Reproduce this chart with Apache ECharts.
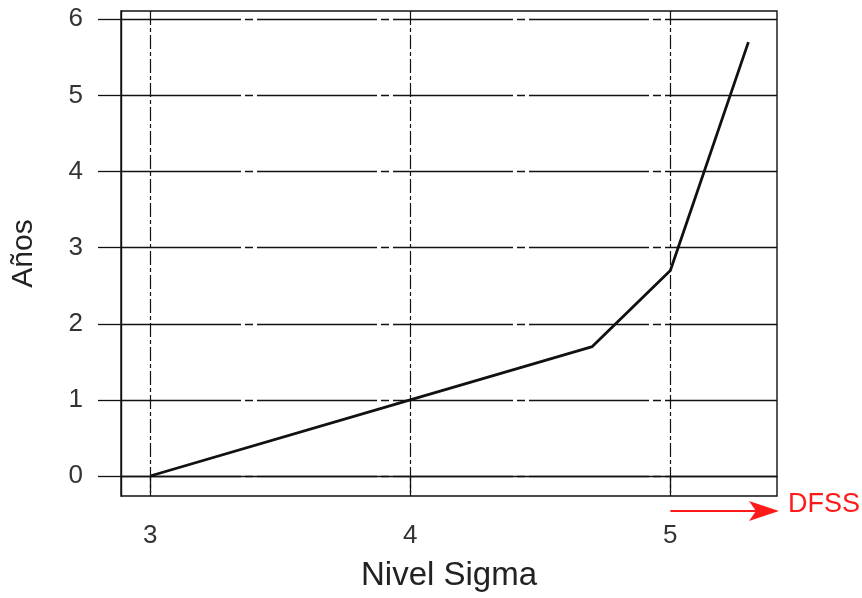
<!DOCTYPE html>
<html>
<head>
<meta charset="utf-8">
<script src="https://cdn.jsdelivr.net/npm/echarts@6/dist/echarts.min.js"></script>
<style>
  html, body { margin: 0; padding: 0; background: #fff; }
  #chart { width: 862px; height: 598px; }
</style>
</head>
<body>
<div id="chart"></div>
<script>
// Sigma level vs. years
const sigmaLevels = [3, 4, 4.7, 5, 5.3];
const years = [0, 1, 1.7, 2.7, 5.7];
const xTicks = [3, 4, 5];
const yTicks = [0, 1, 2, 3, 4, 5, 6];
const xTitle = 'Nivel Sigma';
const yTitle = 'Años';
const arrowLabel = 'DFSS';
const arrowFrom = 5;

const FONT = '"Liberation Sans", Arial, sans-serif';
const chart = echarts.init(document.getElementById('chart'), null, { renderer: 'canvas' });

const option = {
  animation: false,
  backgroundColor: '#fff',
  grid: {
    left: 121, top: 11, right: 85, bottom: 102,
    show: true, borderColor: '#111', borderWidth: 1.4, backgroundColor: 'transparent'
  },
  xAxis: {
    type: 'value',
    min: 2.888, max: 5.41,
    name: xTitle, nameLocation: 'middle', nameGap: 63,
    nameTextStyle: { fontFamily: FONT, fontSize: 33, color: '#222' },
    axisLine: { show: true, lineStyle: { color: '#111', width: 1.4 } },
    axisTick: { show: true, inside: false, length: 17, customValues: xTicks, lineStyle: { color: '#111', width: 1.3 } },
    axisLabel: { customValues: xTicks, margin: 27, fontFamily: FONT, fontSize: 26, color: '#333', formatter: v => String(v) },
    splitLine: { show: true, lineStyle: { color: '#111', width: 1.2, type: [14, 3, 4, 3] } }
  },
  yAxis: {
    type: 'value',
    min: -0.263, max: 6.109,
    name: yTitle, nameLocation: 'middle', nameGap: 82, nameRotate: 90,
    nameTextStyle: { fontFamily: FONT, fontSize: 30, color: '#222' },
    axisLine: { show: true, lineStyle: { color: '#111', width: 1.4 } },
    axisTick: { show: true, inside: false, length: 23, customValues: yTicks, lineStyle: { color: '#111', width: 1.3 } },
    axisLabel: { customValues: yTicks, margin: 38, fontFamily: FONT, fontSize: 26, color: '#333', formatter: v => String(v) },
    splitLine: { show: true, lineStyle: { color: '#111', width: 1.3, type: [120, 4, 8, 4] } }
  },
  series: [{
    type: 'line',
    data: sigmaLevels.map((x, i) => [x, years[i]]),
    showSymbol: false,
    lineStyle: { color: '#111', width: 2.8 },
    z: 5
  }]
};
chart.setOption(option);

// Red DFSS arrow below the frame, starting at sigma level 5
const start = chart.convertToPixel({ gridIndex: 0 }, [arrowFrom, 0]);
const rightEdge = chart.convertToPixel({ gridIndex: 0 }, [5.41, 0]);
const arrowY = chart.convertToPixel({ gridIndex: 0 }, [0, -0.263])[1] + 15;
const tipX = rightEdge[0] + 2;
chart.setOption({
  graphic: [
    { type: 'line', shape: { x1: start[0], y1: arrowY, x2: tipX - 22, y2: arrowY }, style: { stroke: '#ff1a1a', lineWidth: 2 } },
    { type: 'polygon', shape: { points: [[tipX, arrowY], [tipX - 30, arrowY - 10], [tipX - 23, arrowY], [tipX - 30, arrowY + 10]] }, style: { fill: '#ff1a1a' } },
    { type: 'text', x: tipX + 9, y: arrowY - 6, style: { text: arrowLabel, fontFamily: FONT, fontSize: 27, fill: '#ff1a1a', verticalAlign: 'middle' } }
  ]
});
</script>
</body>
</html>
